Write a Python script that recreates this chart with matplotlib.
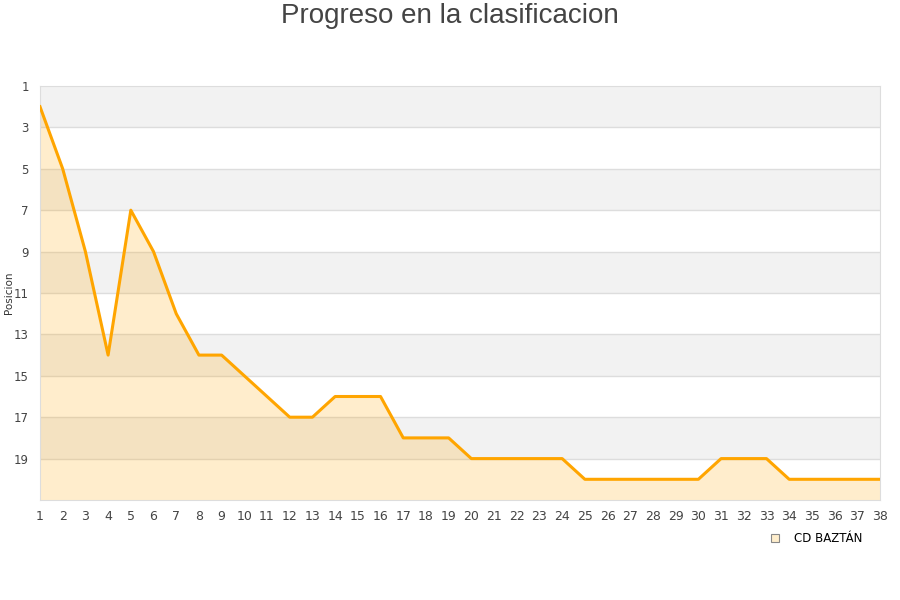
import matplotlib
matplotlib.use('Agg')
import matplotlib.pyplot as plt
from matplotlib.lines import Line2D

jornadas = list(range(1, 39))
posicion = [2, 5, 9, 14, 7, 9, 12, 14, 14, 15,
            16, 17, 17, 16, 16, 16, 18, 18, 18, 19,
            19, 19, 19, 19, 20, 20, 20, 20, 20, 20,
            19, 19, 19, 20, 20, 20, 20, 20]
equipo = 'CD BAZTÁN'
y_ticks = list(range(1, 20, 2))

fig = plt.figure(figsize=(9, 6), dpi=100)
ax = fig.add_axes([40/900, 1-500/600, 840/900, 414/600])

# bandas grises alternas
for y0 in range(1, 21, 4):
    ax.axhspan(y0, y0 + 2, color='#f2f2f2', zorder=0, lw=0)
for y in y_ticks[1:]:
    ax.axhline(y, color='#dddddd', lw=1, zorder=1)

ax.fill_between(jornadas, posicion, 21, color='#ffa500', alpha=0.2, lw=0, zorder=2)
ax.plot(jornadas, posicion, color='#ffa500', lw=2.2, zorder=3)

ax.set_xlim(1, 38)
ax.set_ylim(21, 1)
ax.set_xticks(jornadas)
ax.set_yticks(y_ticks)
ax.tick_params(length=0, labelsize=9, colors='#444444', pad=7)
ax.tick_params(axis='y', pad=8, labelsize=8.5)
for s in ax.spines.values():
    s.set_color('#dddddd')

fig.text(9/900, 1-293/600, 'Posicion', rotation=90, ha='center', va='center',
         fontsize=7.5, color='#333333')
fig.text(0.5, 0.995, 'Progreso en la clasificacion', ha='center', va='top',
         fontsize=20, color='#444444', family='Liberation Sans')

h = Line2D([], [], marker='s', ls='', markersize=6, markerfacecolor='#ffeecc',
           markeredgecolor='#888888', markeredgewidth=0.8)
fig.legend([h], [equipo], loc='center right', bbox_to_anchor=(0.97, 0.102),
           frameon=False, fontsize=8.5, handletextpad=0.6)

fig.savefig('out.png', dpi=100)
